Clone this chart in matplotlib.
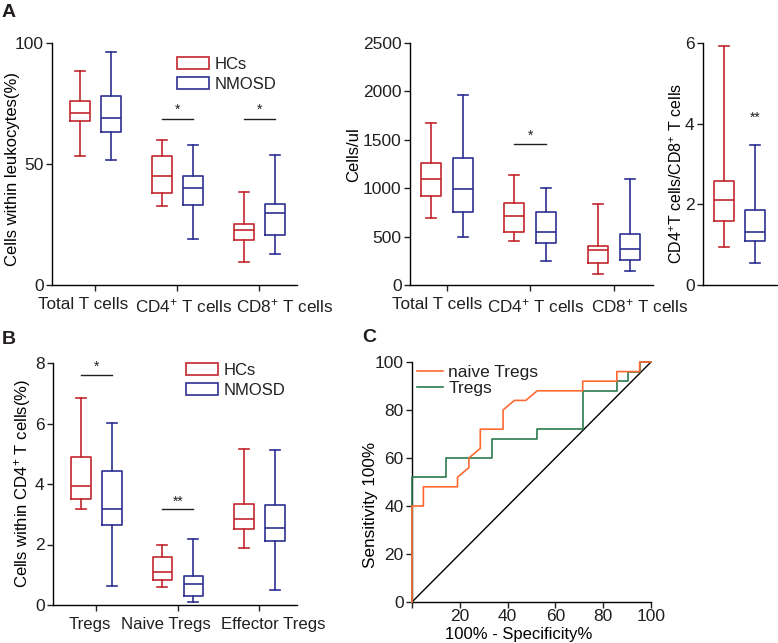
import matplotlib
matplotlib.use("Agg")
import matplotlib.pyplot as plt
from matplotlib.patches import Patch
from matplotlib.lines import Line2D
from matplotlib.transforms import ScaledTranslation

plt.rcParams['font.family'] = 'Liberation Sans'
plt.rcParams['mathtext.fontset'] = 'custom'
plt.rcParams['mathtext.rm'] = 'Liberation Sans'
plt.rcParams['mathtext.it'] = 'Liberation Sans:italic'
plt.rcParams['axes.linewidth'] = 1.0
plt.rcParams['text.color'] = '#231f20'
plt.rcParams['xtick.color'] = '#231f20'
plt.rcParams['ytick.color'] = '#231f20'

RED = '#c1272d'
BLUE = '#2e3192'
ORANGE = '#ff6a33'
GREEN = '#2b7a4b'

# box stats as (whislo, q1, med, q3, whishi)
a1_groups = ['Total T cells', 'CD4$^{+}$ T cells', 'CD8$^{+}$ T cells']
a1_hcs = [[53.1, 67.9, 71.0, 76.1, 88.6],
          [32.8, 38.2, 45.2, 53.1, 59.9],
          [9.5, 18.8, 22.8, 25.4, 38.3]]
a1_nmosd = [[51.7, 63.3, 69.0, 77.9, 96.1],
            [18.9, 33.0, 40.1, 45.0, 57.7],
            [12.8, 20.6, 29.7, 33.5, 53.7]]

a2_groups = ['Total T cells', 'CD4$^{+}$ T cells', 'CD8$^{+}$ T cells']
a2_hcs = [[690, 921, 1090, 1259, 1676],
          [455, 548, 717, 848, 1138],
          [117, 231, 362, 407, 838]]
a2_nmosd = [[493, 759, 990, 1317, 1966],
            [245, 438, 548, 752, 1007],
            [148, 262, 372, 528, 1097]]

a3_hcs = [0.95, 1.59, 2.11, 2.58, 5.92]
a3_nmosd = [0.54, 1.08, 1.31, 1.86, 3.46]

b_groups = ['Tregs', 'Naive Tregs', 'Effector Tregs']
b_hcs = [[3.17, 3.50, 3.92, 4.90, 6.84],
         [0.58, 0.83, 1.10, 1.60, 1.98],
         [1.87, 2.50, 2.85, 3.33, 5.16]]
b_nmosd = [[0.63, 2.63, 3.16, 4.44, 6.02],
           [0.11, 0.31, 0.68, 0.97, 2.19],
           [0.50, 2.11, 2.54, 3.32, 5.14]]

# ROC curves (100% - specificity, sensitivity)
naive_fpr = [0, 0, 4.76, 4.76, 19.05, 19.05, 23.81, 23.81, 28.57, 28.57, 38.10, 38.10,
             42.86, 47.62, 52.38, 71.43, 71.43, 85.71, 85.71, 95.24, 95.24, 100]
naive_tpr = [0, 40, 40, 48, 48, 52, 56, 60, 64, 72, 72, 80,
             84, 84, 88, 88, 92, 92, 96, 96, 100, 100]
tregs_fpr = [0, 0, 14.29, 14.29, 33.33, 33.33, 52.38, 52.38, 71.43, 71.43, 85.71, 85.71,
             90.48, 90.48, 95.24, 95.24, 100]
tregs_tpr = [0, 52, 52, 60, 60, 68, 68, 72, 72, 88, 88, 92,
             92, 96, 96, 100, 100]

W, H = 778, 643
fig = plt.figure(figsize=(W / 100, H / 100), dpi=100)


def px_axes(x0, x1, ytop, ybot):
    return fig.add_axes([x0 / W, 1 - ybot / H, (x1 - x0) / W, (ybot - ytop) / H])


def stat(v):
    return dict(whislo=v[0], q1=v[1], med=v[2], q3=v[3], whishi=v[4], fliers=[])


def draw_boxes(ax, stats, positions, color, width):
    ax.bxp([stat(s) for s in stats], positions=positions, widths=width,
           showfliers=False, manage_ticks=False,
           boxprops=dict(color=color, linewidth=1.2),
           medianprops=dict(color=color, linewidth=1.2),
           whiskerprops=dict(color=color, linewidth=1.2),
           capprops=dict(color=color, linewidth=1.2),
           capwidths=width * 0.5)


def style(ax):
    for s in ['top', 'right']:
        ax.spines[s].set_visible(False)
    ax.tick_params(direction='out', length=4, width=1.0, labelsize=12.5, pad=2)
    ax.tick_params(axis='x', pad=5)


def shift_labels(ax, shifts):
    # nudge category labels sideways (pixels) like the original layout
    for lab, dx in zip(ax.get_xticklabels(), shifts):
        lab.set_transform(lab.get_transform() + ScaledTranslation(dx / 100, 0, fig.dpi_scale_trans))


def ylab(ax, text, size, xa, ya):
    ax.set_ylabel(text, fontsize=size, va='center')
    ax.yaxis.set_label_coords(xa, ya)


def box_legend(x, y):
    handles = [Patch(facecolor='white', edgecolor=RED, linewidth=1.2, label='HCs'),
               Patch(facecolor='white', edgecolor=BLUE, linewidth=1.2, label='NMOSD')]
    fig.legend(handles=handles, loc='upper left', bbox_to_anchor=(x / W, 1 - y / H),
               frameon=False, fontsize=12, handlelength=1.9, handleheight=0.75,
               handletextpad=0.35, labelspacing=0.3, borderpad=0, borderaxespad=0)


def star(ax, x0, x1, y_line, y_star, txt):
    if x0 is not None:
        ax.plot([x0, x1], [y_line, y_line], color='#231f20', linewidth=1.0)
    ax.text((x0 + x1) / 2 if x0 is not None else x1, y_star, txt,
            ha='center', va='center', fontsize=10)


off = 0.19
bw = 0.24
grp = [0, 1, 2]

# Panel A left
ax1 = px_axes(52, 297, 43, 285)
draw_boxes(ax1, a1_hcs, [g - off for g in grp], RED, bw)
draw_boxes(ax1, a1_nmosd, [g + off for g in grp], BLUE, bw)
ax1.set_xlim(-0.53, 2.46)
ax1.set_ylim(0, 100)
ax1.set_yticks([0, 50, 100])
ax1.set_xticks(grp)
ax1.set_xticklabels(a1_groups)
style(ax1)
ax1.tick_params(axis='x', labelsize=12.3)
shift_labels(ax1, [-12, 6, 25])
ylab(ax1, 'Cells within leukocytes(%)', 12, -0.16, 0.479)
star(ax1, 1 - off, 1 + off, 68.7, 72.2, '*')
star(ax1, 2 - off, 2 + off, 68.7, 72.2, '*')
box_legend(177, 57)

# Panel A middle
ax2 = px_axes(410, 653, 43, 285)
draw_boxes(ax2, a2_hcs, [g - off for g in grp], RED, bw)
draw_boxes(ax2, a2_nmosd, [g + off for g in grp], BLUE, bw)
ax2.set_xlim(-0.44, 2.47)
ax2.set_ylim(0, 2500)
ax2.set_yticks(range(0, 2501, 500))
ax2.set_xticks(grp)
ax2.set_xticklabels(a2_groups)
style(ax2)
ax2.tick_params(axis='x', labelsize=12.3)
shift_labels(ax2, [-10, 6, 26])
ylab(ax2, 'Cells/ul', 12, -0.23, 0.539)
star(ax2, 1 - off, 1 + off, 1459, 1545, '*')

# Panel A right
ax3 = px_axes(703, 777, 43, 285)
draw_boxes(ax3, [a3_hcs], [0], RED, 0.65)
draw_boxes(ax3, [a3_nmosd], [1], BLUE, 0.65)
ax3.set_xlim(-0.68, 1.71)
ax3.set_ylim(0, 6)
ax3.set_yticks([0, 2, 4, 6])
ax3.set_xticks([])
style(ax3)
ylab(ax3, 'CD4$^{+}$T cells/CD8$^{+}$ T cells', 11.5, -0.351, 0.461)
star(ax3, None, 1, None, 4.15, '**')

# Panel B
ax4 = px_axes(53, 297, 363, 605)
draw_boxes(ax4, b_hcs, [g - off for g in grp], RED, bw)
draw_boxes(ax4, b_nmosd, [g + off for g in grp], BLUE, bw)
ax4.set_xlim(-0.53, 2.46)
ax4.set_ylim(0, 8)
ax4.set_yticks([0, 2, 4, 6, 8])
ax4.set_xticks(grp)
ax4.set_xticklabels(b_groups)
style(ax4)
ax4.tick_params(axis='x', labelsize=12.1)
shift_labels(ax4, [-6, -12, 14])
ylab(ax4, 'Cells within CD4$^{+}$ T cells(%)', 12, -0.125, 0.5)
star(ax4, 0 - off, 0 + off, 7.61, 7.87, '*')
star(ax4, 1 - off, 1 + off, 3.16, 3.42, '**')
box_legend(186, 363)

# Panel C
ax5 = px_axes(412, 651, 362, 602)
ax5.plot([0, 100], [0, 100], color='black', linewidth=1.0)
ax5.plot(tregs_fpr, tregs_tpr, color=GREEN, linewidth=1.2, clip_on=False, zorder=3)
ax5.plot(naive_fpr, naive_tpr, color=ORANGE, linewidth=1.2, clip_on=False, zorder=4)
ax5.set_xlim(0, 100)
ax5.set_ylim(0, 100)
ax5.set_xticks(range(0, 101, 20))
ax5.set_xticklabels([''] + [str(v) for v in range(20, 101, 20)])
ax5.set_yticks(range(0, 101, 20))
style(ax5)
ax5.tick_params(axis='x', pad=1)
ax5.set_xlabel('100% - Specificity%', fontsize=12, labelpad=0)
ax5.xaxis.set_label_coords((519 - 412) / 239, -0.105)
ylab(ax5, 'Sensitivity 100%', 12.3, -0.172, 0.404)
ax5.legend(handles=[Line2D([], [], color=ORANGE, linewidth=1.2, label='naive Tregs'),
                    Line2D([], [], color=GREEN, linewidth=1.2, label='Tregs')],
           loc='upper left', bbox_to_anchor=(417 / W, 1 - 365 / H),
           bbox_transform=fig.transFigure, frameon=False, fontsize=12.5,
           handlelength=1.5, handletextpad=0.3, labelspacing=0.05,
           borderpad=0, borderaxespad=0)

# panel letters
fig.text(2 / W, 1 - 4 / H, 'A', fontsize=14, fontweight='bold', va='top')
fig.text(2 / W, 1 - 331 / H, 'B', fontsize=14, fontweight='bold', va='top')
fig.text(362 / W, 1 - 329 / H, 'C', fontsize=14, fontweight='bold', va='top')

fig.savefig('out.png', dpi=100)
